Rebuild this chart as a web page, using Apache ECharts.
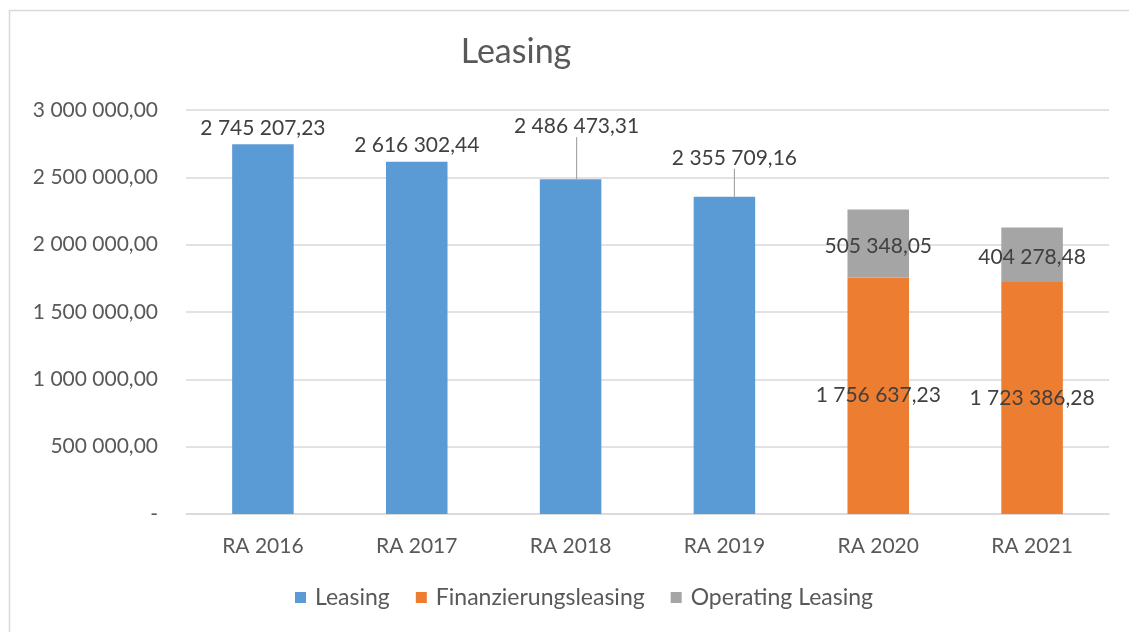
<!DOCTYPE html>
<html><head><meta charset="utf-8">
<script src="https://cdn.jsdelivr.net/npm/echarts@6/dist/echarts.min.js"></script>
<style>html,body{margin:0;padding:0;background:#fff}#c{width:1129px;height:632px}</style>
</head><body><div id="c"></div>
<script>
const categories = ['RA 2016','RA 2017','RA 2018','RA 2019','RA 2020','RA 2021'];
const leasing = [2745207.23, 2616302.44, 2486473.31, 2355709.16, null, null];
const finanzierung = [null, null, null, null, 1756637.23, 1723386.28];
const operating = [null, null, null, null, 505348.05, 404278.48];
const yTicks = [0, 500000, 1000000, 1500000, 2000000, 2500000, 3000000];

function fmt(v){
  if (v === 0) return '-';
  const s = v.toFixed(2).split('.');
  const intPart = s[0].replace(/\B(?=(\d{3})+(?!\d))/g, ' ');
  return intPart + ',' + s[1];
}
const FONT = 'Lato';
const FS = 21;
const leasingData = leasing.map((v,i)=>({value:v, labelLine:{show: i===2 || i===3}}));
const chart = echarts.init(document.getElementById('c'));
chart.setOption({
  animation:false,
  textStyle:{fontFamily:FONT},
  title:{text:'Leasing', left:511, top:30, textAlign:'center',
    textStyle:{fontFamily:FONT, fontSize:34, fontWeight:'normal', color:'#595959'}},
  graphic:[{type:'rect', shape:{x:9.5,y:10.5,width:1300,height:800},
    style:{fill:'none', stroke:'#d9d9d9', lineWidth:1.5}, silent:true, z:-1}],
  legend:{bottom:18, left:290, itemWidth:11, itemHeight:11, itemGap:26, icon:'rect',
    textStyle:{fontFamily:FONT, fontSize:23, color:'#595959', padding:[0,0,0,4]},
    data:['Leasing','Finanzierungsleasing','Operating Leasing']},
  grid:{left:186, right:20, top:110, bottom:118, containLabel:false},
  xAxis:{type:'category', data:categories,
    axisLine:{show:true, lineStyle:{color:'#d9d9d9', width:1.5}},
    axisTick:{show:false},
    axisLabel:{fontFamily:FONT, fontSize:FS, color:'#595959', margin:22}},
  yAxis:{type:'value', min:0, max:3000000, interval:500000,
    axisLine:{show:false}, axisTick:{show:false},
    splitLine:{lineStyle:{color:'#d9d9d9', width:1.5}},
    axisLabel:{fontFamily:FONT, fontSize:FS, color:'#595959', margin:28,
      formatter:v=>fmt(v)}},
  series:[
    {name:'Leasing', type:'bar', stack:'s', barWidth:'40%', data:leasingData,
      itemStyle:{color:'#5b9bd5'},
      label:{show:true, position:'top', distance:6, fontFamily:FONT, fontSize:FS, color:'#404040',
        formatter:p=>fmt(p.value)},
      labelLine:{lineStyle:{color:'#a6a6a6', width:1.2}},
      labelLayout:function(p){
        if(p.dataIndex===2) return {dy:-36, dx:6};
        if(p.dataIndex===3) return {dy:-22, dx:10};
        return {};
      }},
    {name:'Finanzierungsleasing', type:'bar', stack:'s', barWidth:'40%', data:finanzierung,
      itemStyle:{color:'#ed7d31'},
      label:{show:true, position:'inside', fontFamily:FONT, fontSize:FS, color:'#404040',
        formatter:p=>fmt(p.value)}},
    {name:'Operating Leasing', type:'bar', stack:'s', barWidth:'40%', data:operating,
      itemStyle:{color:'#a5a5a5'},
      label:{show:true, position:'inside', offset:[0,3], fontFamily:FONT, fontSize:FS, color:'#404040',
        formatter:p=>fmt(p.value)}}
  ]
});
</script></body></html>
